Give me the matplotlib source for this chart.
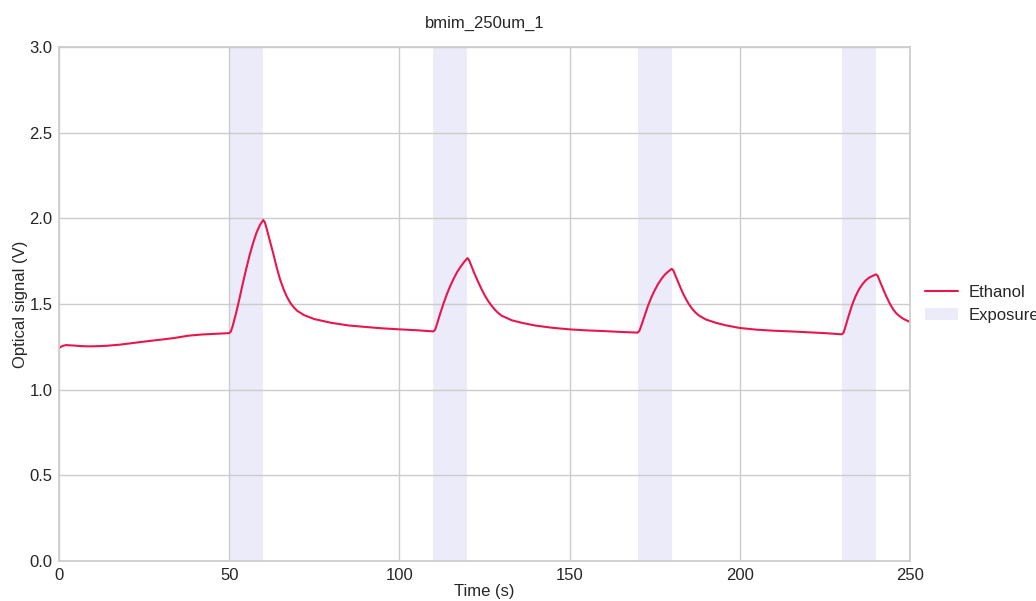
import matplotlib
matplotlib.use("Agg")
import matplotlib.pyplot as plt
import seaborn as sns

title = "bmim_250um_1"
x_label = "Time (s)"
y_label = "Optical signal (V)"
series_name = "Ethanol"
span_name = "Exposure"

exposure_starts = [50, 110, 170, 230]
exposure_ends = [60, 120, 180, 240]

time_s = [0, 1, 2, 4, 6, 8, 10, 14, 18, 22, 26, 30, 34, 38, 42, 46,
          50, 50.5, 51, 52, 53, 54, 55, 56, 57, 58, 59, 60,
          60.5, 61, 62, 63, 64, 65, 66, 67, 68, 69, 70, 72, 75, 80, 85, 90, 95, 100, 105,
          110, 110.5, 111, 112, 113, 114, 115, 116, 117, 118, 119, 120,
          120.5, 121, 122, 123, 124, 125, 126, 127, 128, 129, 130, 133, 136, 140, 145, 150, 155, 160, 165,
          170, 170.5, 171, 172, 173, 174, 175, 176, 177, 178, 179, 180,
          180.5, 181, 182, 183, 184, 185, 186, 187, 188, 190, 193, 196, 200, 205, 210, 215, 220, 225,
          230, 230.5, 231, 232, 233, 234, 235, 236, 237, 238, 239, 240,
          240.5, 241, 242, 243, 244, 245, 246, 247, 248, 249, 250]
signal_v = [1.243, 1.255, 1.260, 1.258, 1.255, 1.253, 1.253, 1.256, 1.263, 1.273, 1.283, 1.292, 1.302, 1.315, 1.322, 1.326,
            1.330, 1.340, 1.370, 1.445, 1.530, 1.620, 1.705, 1.785, 1.855, 1.915, 1.960, 1.990,
            1.975, 1.940, 1.865, 1.790, 1.710, 1.640, 1.585, 1.540, 1.505, 1.480, 1.460, 1.435, 1.412, 1.390, 1.375, 1.366, 1.358, 1.352, 1.347,
            1.340, 1.350, 1.380, 1.445, 1.505, 1.560, 1.608, 1.650, 1.688, 1.718, 1.745, 1.768,
            1.755, 1.730, 1.680, 1.635, 1.592, 1.553, 1.520, 1.492, 1.468, 1.448, 1.432, 1.405, 1.390, 1.374, 1.361, 1.352, 1.346, 1.342, 1.337,
            1.333, 1.343, 1.370, 1.430, 1.488, 1.538, 1.580, 1.617, 1.647, 1.672, 1.690, 1.705,
            1.695, 1.670, 1.622, 1.575, 1.535, 1.500, 1.472, 1.450, 1.433, 1.410, 1.390, 1.375, 1.360, 1.350, 1.344, 1.340, 1.335, 1.330,
            1.323, 1.333, 1.365, 1.432, 1.495, 1.545, 1.585, 1.615, 1.638, 1.654, 1.664, 1.673,
            1.665, 1.640, 1.592, 1.546, 1.505, 1.470, 1.445, 1.428, 1.414, 1.404, 1.396]

sns.set_theme(style="whitegrid")
plt.rcParams['font.family'] = ['Liberation Sans', 'DejaVu Sans']

fig = plt.figure(figsize=(10.36, 6.01), dpi=100)
ax = fig.add_axes([59/1036, 1-561/601, (910-59)/1036, (561-47)/601])

ax.plot(time_s, signal_v, color="#e8174b", lw=1.5, label=series_name)
for i, (s, e) in enumerate(zip(exposure_starts, exposure_ends)):
    ax.axvspan(s, e, color="#ebebf9", lw=0, label=span_name if i == 0 else None, zorder=0)

ax.set_xlim(0, 250)
ax.set_ylim(0, 3.0)
ax.set_xticks([0, 50, 100, 150, 200, 250])
ax.set_yticks([0, 0.5, 1.0, 1.5, 2.0, 2.5, 3.0])
ax.set_xlabel(x_label, fontsize=12, labelpad=1)
ax.set_ylabel(y_label, fontsize=12, labelpad=1)
ax.tick_params(axis="x", labelsize=12, length=0, pad=5)
ax.tick_params(axis="y", labelsize=12, length=0, pad=4.5)
ax.set_title(title, fontsize=12, pad=14)
ax.legend(loc="center left", bbox_to_anchor=(1.0, 0.5), frameon=False, fontsize=12,
          handletextpad=0.6, borderaxespad=0.5)

fig.savefig("out.png", dpi=100)
